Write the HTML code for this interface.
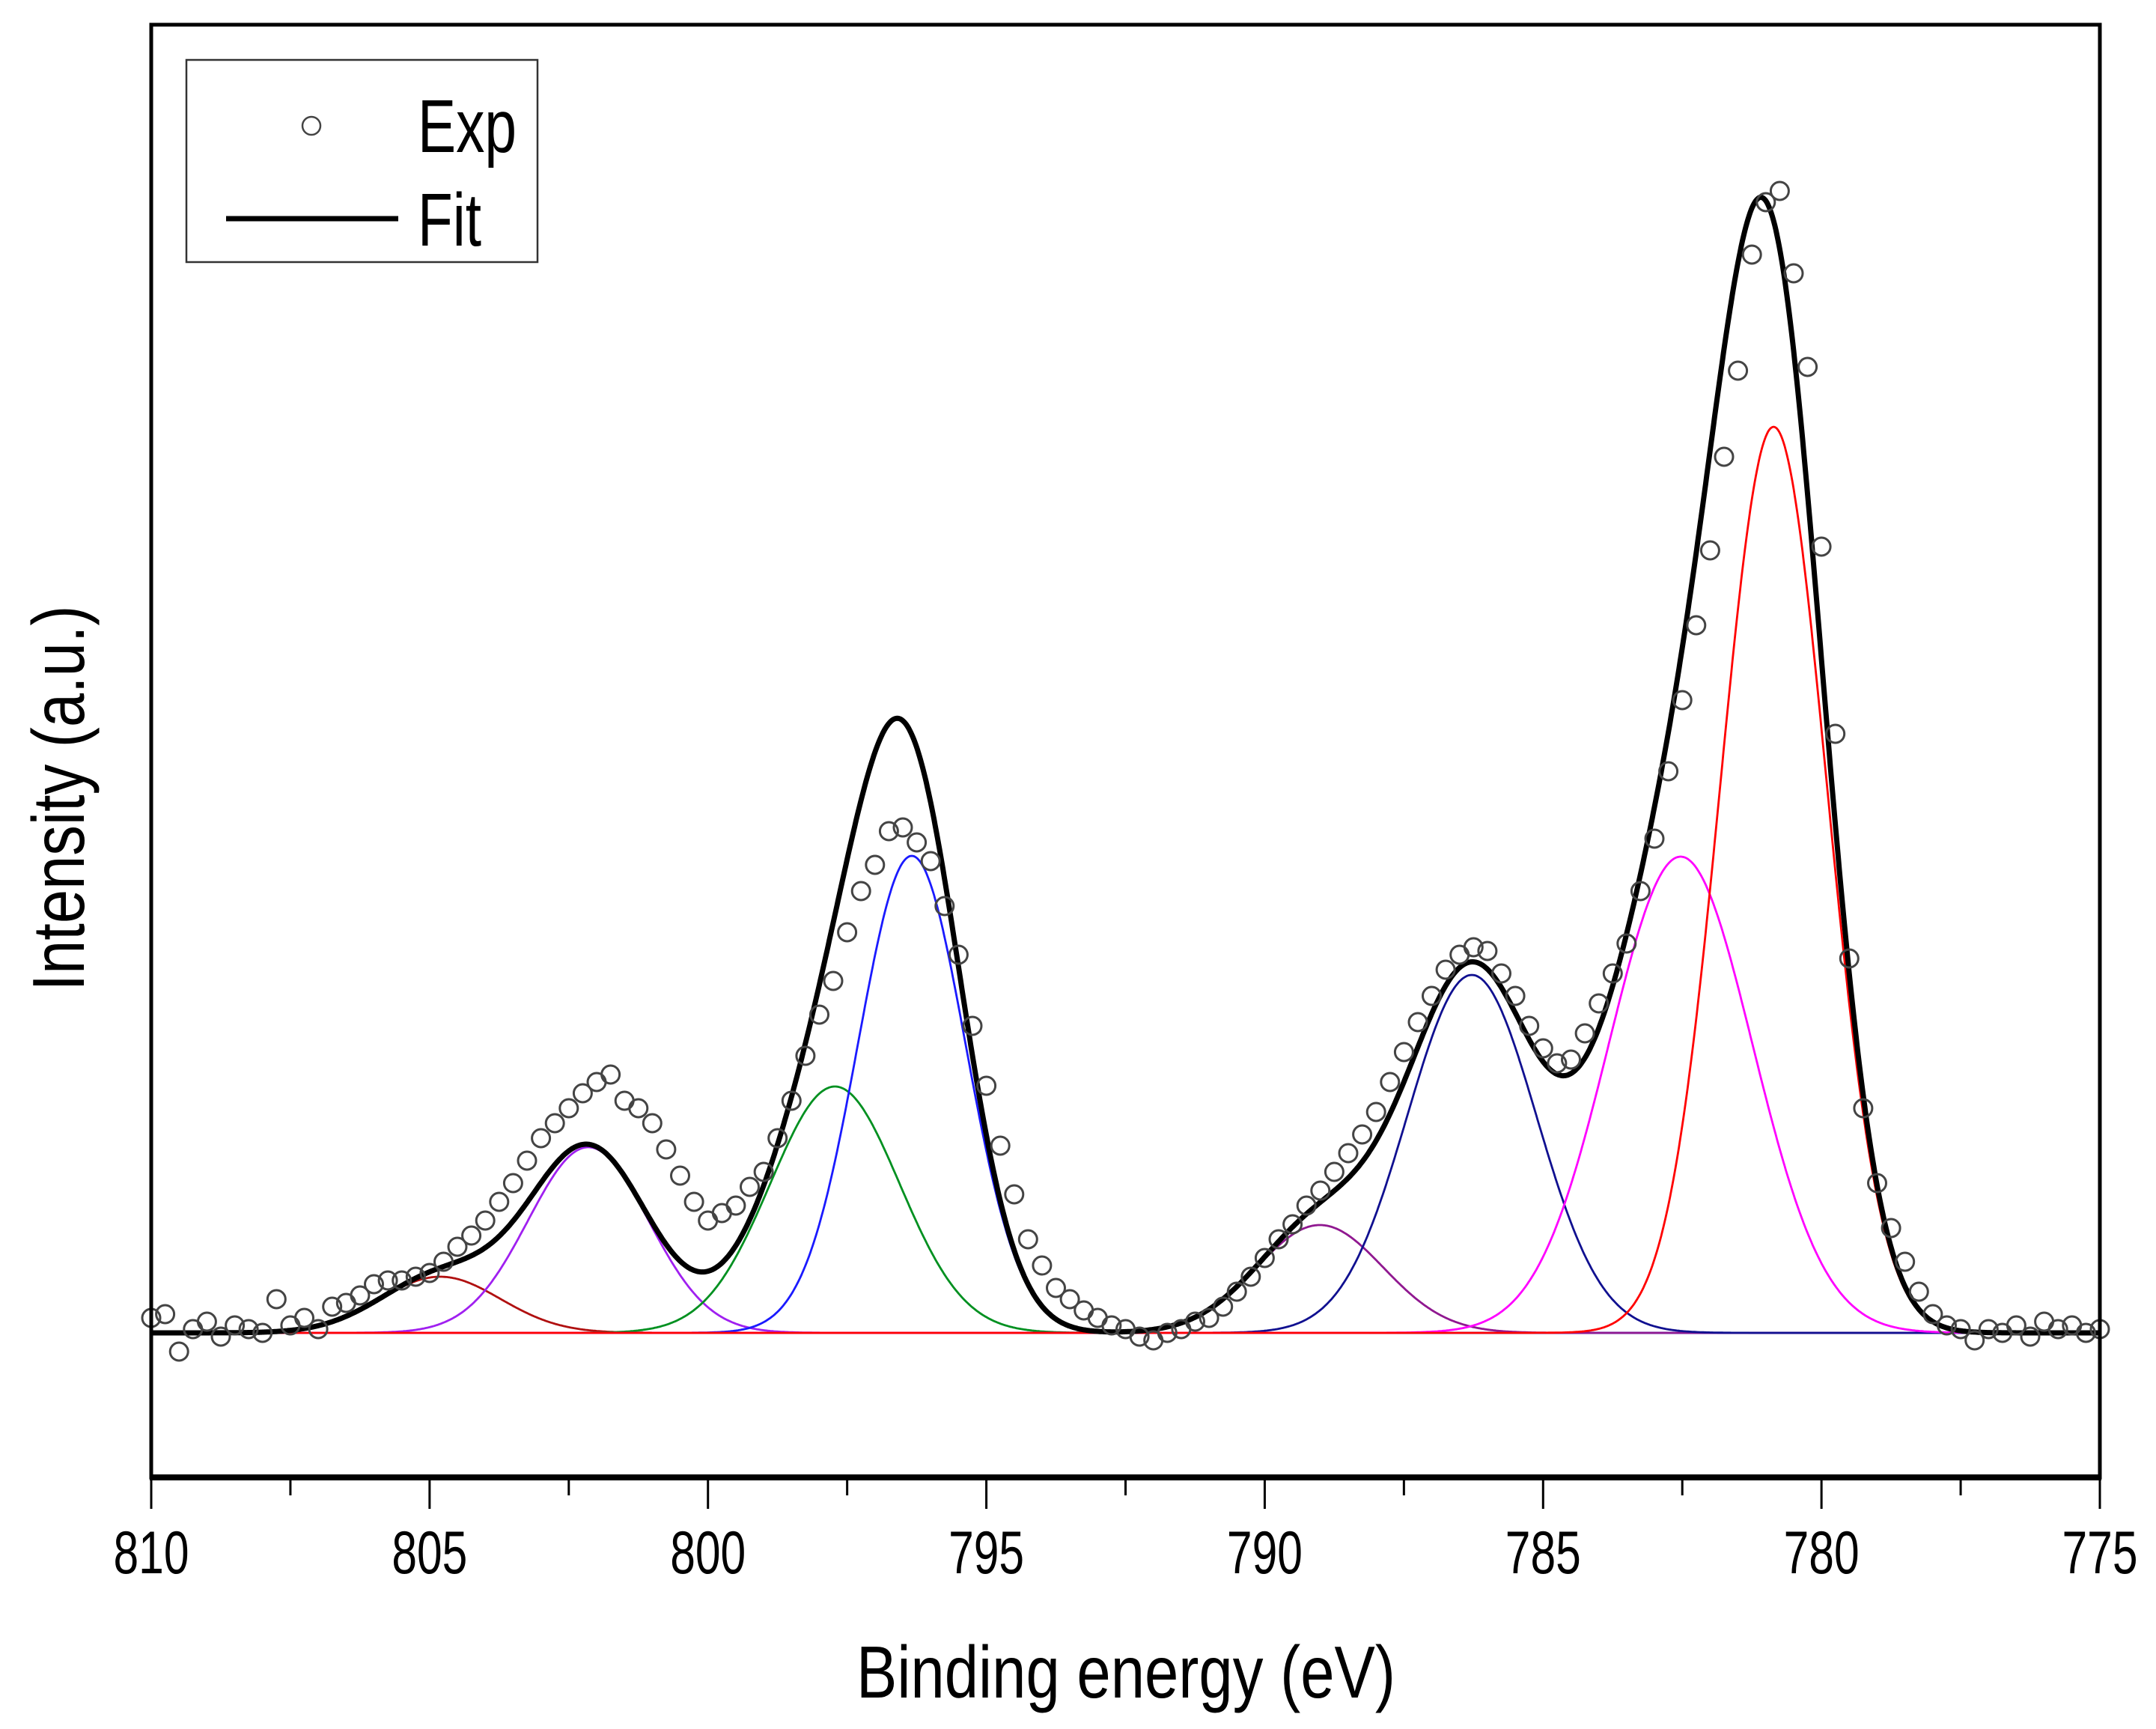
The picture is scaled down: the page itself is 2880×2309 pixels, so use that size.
<!DOCTYPE html>
<html><head><meta charset="utf-8"><style>
html,body{margin:0;padding:0;background:#fff;}
svg{display:block;font-family:"Liberation Sans",Arial,sans-serif;}
</style></head><body>
<svg id="chart" width="2880" height="2309" viewBox="0 0 2880 2309" xmlns="http://www.w3.org/2000/svg">
<rect width="2880" height="2309" fill="#fff"/>
<g id="components"></g>
<g id="fitg"></g>
<g id="expg"></g>
<g id="axes"></g>
<g>
  <rect x="249" y="80" width="469" height="270" fill="#fff" stroke="#333" stroke-width="2.5"/>
  <circle cx="416" cy="168" r="12" fill="none" stroke="#444" stroke-width="2.5"/>
  <text x="558" y="203" font-size="100" textLength="132" lengthAdjust="spacingAndGlyphs">Exp</text>
  <line x1="302" y1="292" x2="532" y2="292" stroke="#000" stroke-width="7"/>
  <text x="558" y="328" font-size="100" textLength="85" lengthAdjust="spacingAndGlyphs">Fit</text>
</g>
<text x="1504" y="2267" font-size="98" text-anchor="middle" textLength="720" lengthAdjust="spacingAndGlyphs">Binding energy (eV)</text>
<text transform="translate(112,1066) rotate(-90)" font-size="98" text-anchor="middle" textLength="515" lengthAdjust="spacingAndGlyphs">Intensity (a.u.)</text>
</svg>
<script>
// ---- data ----
const compNames = ["peak-804.8","peak-802.2","peak-797.7","peak-796.3","peak-789.0","peak-786.3","peak-782.5","peak-780.9"];
const compCenters = [804.81, 802.15, 797.72, 796.34, 789.01, 786.28, 782.53, 780.86];
const compHeights = [75, 248, 329, 637, 144, 478, 636, 1210];
const compSigmas = [1.08, 1.08, 1.16, 0.965, 1.14, 1.16, 1.29, 0.955];
const compColors = ["#b01010","#a020f0","#009020","#1a1aff","#901890","#101090","#ff00ff","#ff0000"];
const expStart = 810, expStep = -0.25;
const expValues = [20,25,-25,5,15,-5,10,5,0,45,10,20,5,35,40,50,65,70,70,75,
80,95,115,130,150,175,200,230,260,280,300,320,335,345,310,300,280,245,210,175,
150,160,170,195,215,260,310,370,425,470,535,590,625,670,675,655,630,570,505,410,
330,250,185,125,90,60,45,30,20,10,5,-5,-10,0,5,15,20,35,55,75,
100,125,145,170,190,215,240,265,295,335,375,415,450,485,505,515,510,480,450,410,
380,360,365,400,440,480,520,590,660,750,845,945,1045,1170,1285,1440,1510,1525,1415,1290,
1050,800,500,300,200,140,95,55,25,10,5,-10,5,0,10,-5,15,5,10,0,5];
const xTicks = [810,805,800,795,790,785,780,775];
const xTickLabels = ["810","805","800","795","790","785","780","775"];

// ---- axes ----
const X0=202, X1=2805, Y0=33, Y1=1973, BASE=1780;
const xs = e => X0 + (810 - e) * (X1 - X0) / 35;
const ys = v => BASE - v;
const NS="http://www.w3.org/2000/svg";
function mk(tag, attrs, parent){const el=document.createElementNS(NS,tag);for(const k in attrs)el.setAttribute(k,attrs[k]);parent.appendChild(el);return el;}
const gauss=(e,i)=>compHeights[i]*Math.exp(-Math.pow(e-compCenters[i],2)/(2*compSigmas[i]*compSigmas[i]));

const comps=document.getElementById('components');
mk('line',{x1:X0,y1:ys(0),x2:X1,y2:ys(0),stroke:"#c02020","stroke-width":2.5},comps);
for(let i=0;i<compCenters.length;i++){
  let d="";
  for(let e=810;e>=775;e-=0.02){d+=(d?"L":"M")+xs(e).toFixed(1)+","+ys(gauss(e,i)).toFixed(1);}
  const p=mk('path',{d:d,fill:"none",stroke:compColors[i],"stroke-width":2.8},comps);
  
  
}
const fitg=document.getElementById('fitg');
let fd="";
for(let e=810;e>=775;e-=0.02){let s=0;for(let i=0;i<compCenters.length;i++)s+=gauss(e,i);fd+=(fd?"L":"M")+xs(e).toFixed(1)+","+ys(s).toFixed(1);}
const fp=mk('path',{d:fd,fill:"none",stroke:"#000","stroke-width":7,"stroke-linejoin":"round"},fitg);



const expg=document.getElementById('expg');
expValues.forEach((v,k)=>{
  const e=expStart+k*expStep;
  const c=mk('circle',{cx:xs(e).toFixed(1),cy:ys(v).toFixed(1),r:12,fill:"none",stroke:"#444","stroke-width":3},expg);
  
  
});

const ax=document.getElementById('axes');
const fr=mk('rect',{x:X0,y:Y0,width:X1-X0,height:Y1-Y0,fill:"none",stroke:"#000","stroke-width":5},ax);


const xa=mk('line',{x1:X0-2,y1:Y1,x2:X1+2,y2:Y1,stroke:"#000","stroke-width":8},ax);


for(let e=810;e>=775;e-=2.5){
  const major=(Math.round(e*2)%10===0);
  const t=mk('line',{x1:xs(e),y1:Y1,x2:xs(e),y2:Y1+(major?42:24),stroke:"#000","stroke-width":3},ax);
  
  
}
xTicks.forEach((e,k)=>{
  const t=mk('text',{x:xs(e),y:2101,"font-size":81,"text-anchor":"middle",textLength:101,lengthAdjust:"spacingAndGlyphs"},ax);
  t.textContent=xTickLabels[k];
  
  
});
</script>
</body></html>
